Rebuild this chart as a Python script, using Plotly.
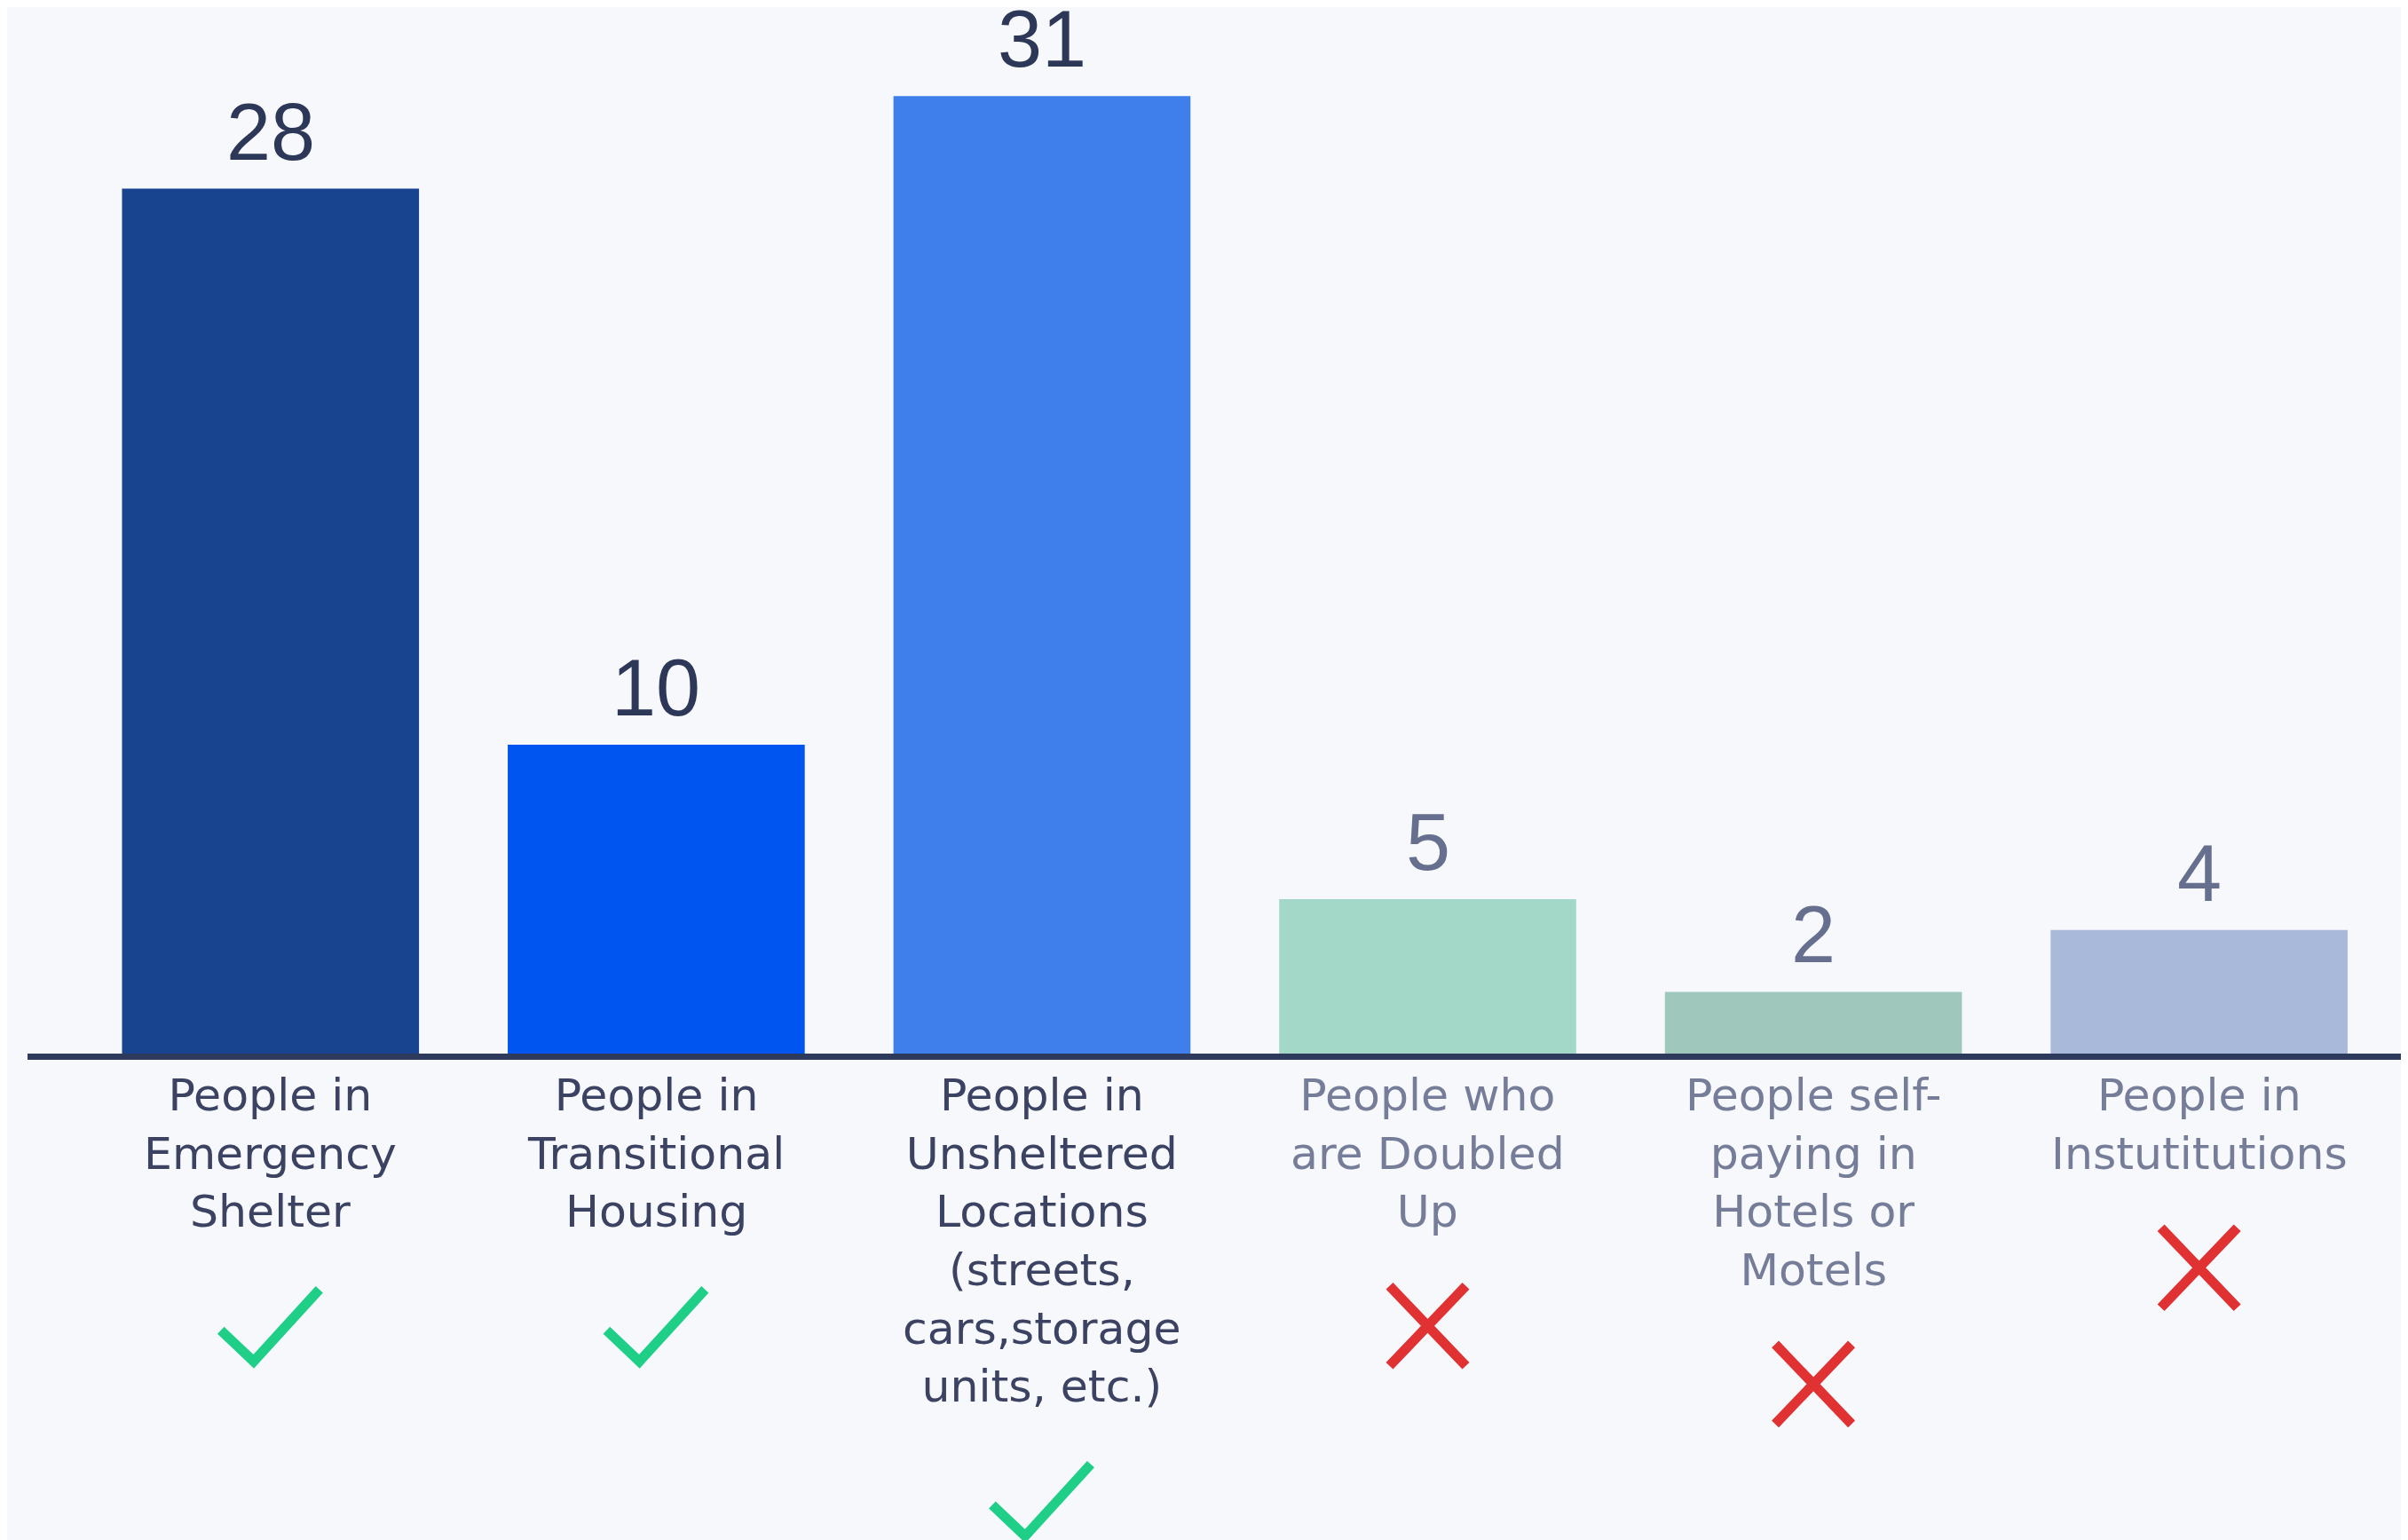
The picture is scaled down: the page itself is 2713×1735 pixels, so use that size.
import plotly.graph_objects as go

# ---- data ----
categories = ["Emergency Shelter", "Transitional Housing", "Unsheltered Locations",
              "Doubled Up", "Self-paying Hotels/Motels", "Institutions"]
values = [28, 10, 31, 5, 2, 4]
label_texts = [
    "People in<br>Emergency<br>Shelter",
    "People in<br>Transitional<br>Housing",
    "People in<br>Unsheltered<br>Locations<br>(streets,<br>cars,storage<br>units, etc.)",
    "People who<br>are Doubled<br>Up",
    "People self-<br>paying in<br>Hotels or<br>Motels",
    "People in<br>Instutitutions",
]
included = [True, True, True, False, False, False]

# ---- style ----
bar_colors = ["#18448f", "#0055f0", "#3e7fec", "#a3d7c8", "#9fc7bc", "#a8b9da"]
dark_txt = "#2d3757"
grey_txt = "#66708e"
lbl_dark = "#3b4262"
lbl_grey = "#767d99"
bg = "#f7f8fc"
OFF = 8  # page offset of the figure inside the browser window
W, H = 2713 - OFF, 1735 - OFF
mt = 0
plot_bottom = 1187 - OFF
mb = H - plot_bottom
plot_h = plot_bottom - mt
line_step = 65.6

fig = go.Figure()
fig.add_trace(go.Bar(
    x=categories, y=values, width=0.77,
    marker=dict(color=bar_colors, line=dict(width=0)),
    hoverinfo="skip",
))

annotations = []
shapes = []
for i, (cat, v, lab, inc) in enumerate(zip(categories, values, label_texts, included)):
    annotations.append(dict(
        x=cat, y=v, xref="x", yref="y", text=str(v), showarrow=False,
        yanchor="bottom", yshift=12,
        font=dict(family="Liberation Sans", size=90, color=dark_txt if inc else grey_txt),
    ))
    annotations.append(dict(
        x=cat, y=0, xref="x", yref="paper", text=lab, showarrow=False,
        yanchor="top", yshift=-15, align="center",
        font=dict(family="DejaVu Sans", size=50.5, color=lbl_dark if inc else lbl_grey),
    ))
    n = lab.count("<br>") + 1
    icon_y_px = 1297 + line_step * n - OFF  # pixel from figure top
    ya = (plot_bottom - icon_y_px) / plot_h
    if inc:
        path = "M -56,-5 L -19,-40 L 55,41"
        col = "#1fcf87"
    else:
        path = "M -43,45 L 43,-45 M -43,-45 L 43,45"
        col = "#e03232"
    shapes.append(dict(
        type="path", xref="x", yref="paper",
        xsizemode="pixel", ysizemode="pixel",
        xanchor=cat, yanchor=ya, path=path,
        line=dict(color=col, width=11),
    ))

fig.update_layout(
    width=W, height=H,
    margin=dict(l=31 - OFF, r=0, t=mt, b=mb, pad=0),
    paper_bgcolor=bg, plot_bgcolor=bg,
    showlegend=False,
    xaxis=dict(range=[-0.63, 5.56 - OFF / 433.3], showticklabels=False, ticks="",
               showgrid=False, zeroline=False,
               showline=True, linecolor="#2e3a5c", linewidth=7),
    yaxis=dict(range=[0, plot_h / 34.8], visible=False, showgrid=False, zeroline=False),
    annotations=annotations,
    shapes=shapes,
)

fig.write_html("out.html")
